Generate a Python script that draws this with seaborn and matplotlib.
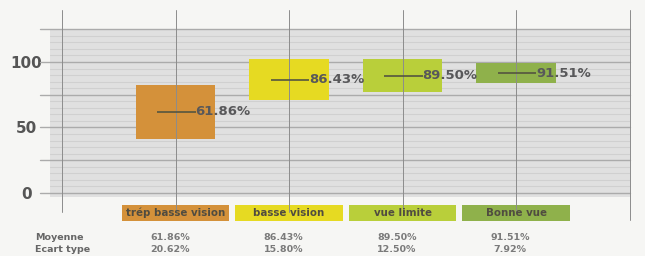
import numpy as np
import matplotlib
matplotlib.use("Agg")
import matplotlib.pyplot as plt
import seaborn as sns
from matplotlib.patches import Rectangle

# data
categories = ["trép basse vision", "basse vision", "vue limite", "Bonne vue"]
means = [61.86, 86.43, 89.50, 91.51]
stds = [20.62, 15.80, 12.50, 7.92]
colors = ["#d4913a", "#e6da22", "#b9cf3a", "#8fb14b"]
positions = [1, 2, 3, 4]
row_labels = ["Moyenne", "Ecart type"]

sns.set_style("white")
plt.rcParams["font.family"] = ["DejaVu Sans"]

fig = plt.figure(figsize=(6.45, 2.56), dpi=100, facecolor="#f6f6f4")
ax = fig.add_axes([50 / 645, 59 / 256, 580 / 645, 167 / 256])
ax.set_facecolor("#e0e0e0")
ax.set_xlim(-0.106, 5.004)
ax.set_ylim(-3.05, 124.4)
for s in ax.spines.values():
    s.set_visible(False)

# minor and major horizontal grid
for y in np.arange(5, 125, 5):
    if y % 25:
        ax.axhline(y, color="#d0d0d0", lw=0.8, zorder=0)
for y in [0, 25, 50, 75, 100, 125]:
    ax.axhline(y, xmin=-0.018, xmax=1.0, color="#ababab", lw=1.0,
               zorder=1, clip_on=False)

# boxes: mean +/- std
lows = [m - s for m, s in zip(means, stds)]
spans = [2 * s for s in stds]
ax.bar(positions, spans, bottom=lows, width=0.7, color=colors,
       linewidth=0, edgecolor="none", zorder=2)

# vertical lines (drawn over the boxes)
for x in range(6):
    ax.axvline(x, ymin=-0.09 if x < 5 else -0.14, ymax=1.12,
               color="#8c8c8c", lw=0.7, zorder=2.5, clip_on=False)

# mean lines and labels
ax.hlines(means, [p - 0.16 for p in positions], [p + 0.18 for p in positions],
          color="#55553f", lw=1.2, zorder=3)
for p, m in zip(positions, means):
    ax.text(p + 0.175, m, f"{m:.2f}%", ha="left", va="center",
            fontsize=9.5, fontweight="bold", color="#58585a", zorder=4)

# category label boxes
for p, c, lab in zip(positions, colors, categories):
    ax.add_patch(Rectangle((p - 0.475, -21.4), 0.95, 12.2, facecolor=c,
                           edgecolor="none", clip_on=False, zorder=2))
    ax.text(p, -15.3, lab, ha="center", va="center", fontsize=7.4,
            fontweight="bold", color="#504c40")

# summary table
ax.text(-0.24, -33.6, row_labels[0], ha="left", va="center", fontsize=6.8,
        fontweight="bold", color="#666666")
ax.text(-0.24, -42.8, row_labels[1], ha="left", va="center", fontsize=6.8,
        fontweight="bold", color="#666666")
for p, m, s in zip(positions, means, stds):
    ax.text(p - 0.05, -33.6, f"{m:.2f}%", ha="center", va="center",
            fontsize=6.8, fontweight="bold", color="#7a7a7a")
    ax.text(p - 0.05, -42.8, f"{s:.2f}%", ha="center", va="center",
            fontsize=6.8, fontweight="bold", color="#7a7a7a")

# y axis
ax.set_xticks([])
ax.set_yticks([0, 50, 100])
ax.set_yticklabels(["0", "50", "100"], fontsize=11, fontweight="bold",
                   color="#555555", ha="center")
ax.tick_params(axis="y", length=0, pad=17)

fig.savefig("out.png", dpi=100, facecolor=fig.get_facecolor())
